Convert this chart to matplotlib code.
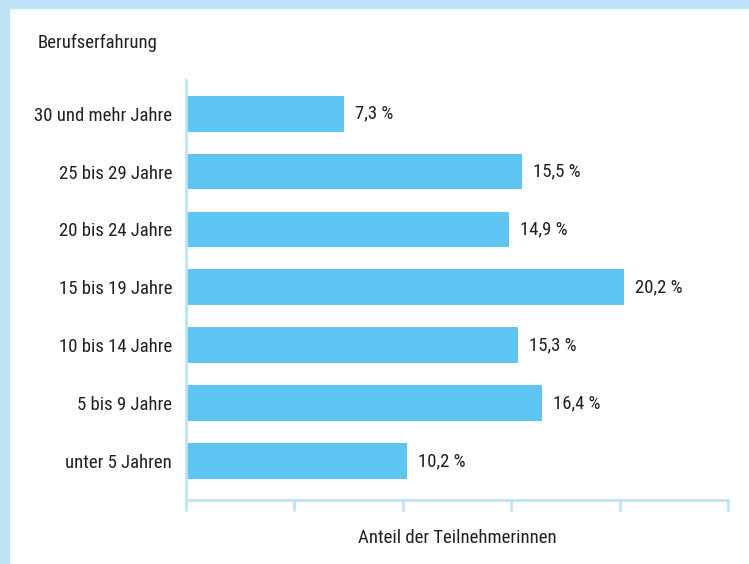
import matplotlib
matplotlib.use("Agg")
import matplotlib.pyplot as plt
from matplotlib.patches import Rectangle
from matplotlib import font_manager
from matplotlib.font_manager import FontProperties

categories = ["unter 5 Jahren", "5 bis 9 Jahre", "10 bis 14 Jahre", "15 bis 19 Jahre",
              "20 bis 24 Jahre", "25 bis 29 Jahre", "30 und mehr Jahre"]
values = [10.2, 16.4, 15.3, 20.2, 14.9, 15.5, 7.3]
value_labels = ["10,2 %", "16,4 %", "15,3 %", "20,2 %", "14,9 %", "15,5 %", "7,3 %"]
xticks = [0, 5, 10, 15, 20, 25]

files = [f.fname for f in font_manager.fontManager.ttflist]
path = None
for pat in ["RobotoCondensed-Regular", "LiberationSansNarrow-Regular", "DejaVuSansCondensed."]:
    for fn in files:
        if pat in fn.split("/")[-1]:
            path = fn
            break
    if path:
        break
FS = 13.5
fp = FontProperties(fname=path, size=FS) if path else FontProperties(family="DejaVu Sans", size=FS)

W, H = 749, 564
fig = plt.figure(figsize=(W / 100, H / 100), dpi=100)
border = "#bde3f7"
fig.patches.append(Rectangle((0, 0), 9 / W, 1, transform=fig.transFigure, color=border, zorder=0))
fig.patches.append(Rectangle((0, 1 - 8 / H), 1, 8 / H, transform=fig.transFigure, color=border, zorder=0))

ax = fig.add_axes([186 / W, 1 - 500 / H, (728 - 186) / W, (500 - 80) / H])
bar_color = "#5ec4f0"
text_color = "#231f20"
spine_color = "#bde3f7"
ypos = list(range(len(categories)))
ax.barh(ypos, values, height=0.62, color=bar_color, zorder=2)
ax.set_xlim(0, 25)
ax.set_ylim(-0.67, 6.58)
ax.set_xticks(xticks)
ax.set_xticklabels([])
ax.set_yticks(ypos)
ax.set_yticklabels(categories, color=text_color)
for t in ax.get_yticklabels():
    t.set_fontproperties(fp)
ax.tick_params(axis="y", length=0, pad=10)
ax.tick_params(axis="x", length=8, width=2, color=spine_color, direction="out")
for s in ["top", "right"]:
    ax.spines[s].set_visible(False)
for s in ["left", "bottom"]:
    ax.spines[s].set_color(spine_color)
    ax.spines[s].set_linewidth(2)

for y, v, lab in zip(ypos, values, value_labels):
    ax.annotate(lab, (v, y), xytext=(11, 0), textcoords="offset pixels",
                va="center", ha="left", fontproperties=fp, color=text_color)

fig.text(38 / W, 1 - 43 / H, "Berufserfahrung", fontproperties=fp, color=text_color,
         ha="left", va="center")
fig.text(457 / W, 1 - 538 / H, "Anteil der Teilnehmerinnen", fontproperties=fp,
         color=text_color, ha="center", va="center")

fig.savefig("out.png", dpi=100)
